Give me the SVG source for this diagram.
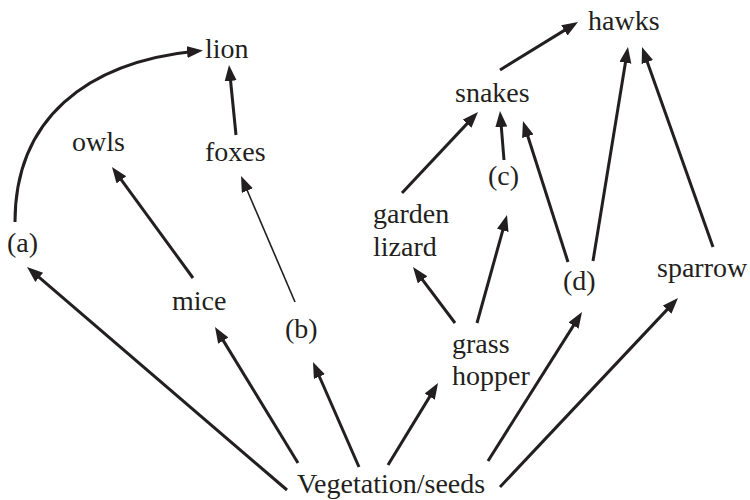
<svg xmlns="http://www.w3.org/2000/svg" width="750" height="500" viewBox="0 0 750 500">
<defs>
<style>
text{font-family:"Liberation Serif","Times New Roman",serif;font-size:28px;fill:#231f20}
.e{fill:none;stroke:#231f20;stroke-width:3;marker-end:url(#ah)}
.t{stroke-width:1.6}
</style>
<marker id="ah" markerUnits="userSpaceOnUse" markerWidth="18" markerHeight="14" refX="10" refY="6" orient="auto" viewBox="0 0 18 14">
<path d="M0,0 L16,6 L0,12 z" fill="#231f20"/>
</marker>
</defs>
<rect width="750" height="500" fill="#fff"/>
<g id="connectors">
<path class="e" d="M15,222 C15,120 85,62 197,51"/>
<path class="e" d="M236,135 L229.6,71"/>
<path class="e" d="M193,278 L115.5,171.8"/>
<path class="e t" d="M295,302 L243.4,181.5"/>
<path class="e" d="M287,490 L31.6,270.9"/>
<path class="e" d="M298,463 L218.1,332.1"/>
<path class="e" d="M359,467 L315.4,367.5"/>
<path class="e" d="M388,465 L434.9,388.1"/>
<path class="e" d="M488,461 L578.8,317.1"/>
<path class="e" d="M500,487 L673.9,302.4"/>
<path class="e" d="M455,323 L416.6,271.8"/>
<path class="e" d="M477,323 L505.4,220.8"/>
<path class="e" d="M402,193 L473.9,116.4"/>
<path class="e" d="M504,160 L500.5,117"/>
<path class="e" d="M568,262 L524.8,126.7"/>
<path class="e" d="M593,261 L627,52.9"/>
<path class="e" d="M713,247 L644,52.7"/>
<path class="e" d="M500,70 L572.9,25.1"/>
</g>
<g id="lion"><text x="205" y="58">lion</text></g>
<g id="owls"><text x="72" y="151">owls</text></g>
<g id="foxes"><text x="205" y="161">foxes</text></g>
<g id="a"><text x="7" y="252">(a)</text></g>
<g id="mice"><text x="172" y="310">mice</text></g>
<g id="b"><text x="285" y="338">(b)</text></g>
<g id="vegetation"><text x="297" y="493">Vegetation/seeds</text></g>
<g id="grasshopper"><text x="452" y="353">grass</text><text x="452" y="385">hopper</text></g>
<g id="d"><text x="563" y="290">(d)</text></g>
<g id="sparrow"><text x="657" y="277">sparrow</text></g>
<g id="hawks"><text x="588" y="30">hawks</text></g>
<g id="snakes"><text x="455" y="102">snakes</text></g>
<g id="c"><text x="488" y="185">(c)</text></g>
<g id="gardenlizard"><text x="373" y="223">garden</text><text x="373" y="256">lizard</text></g>
</svg>
